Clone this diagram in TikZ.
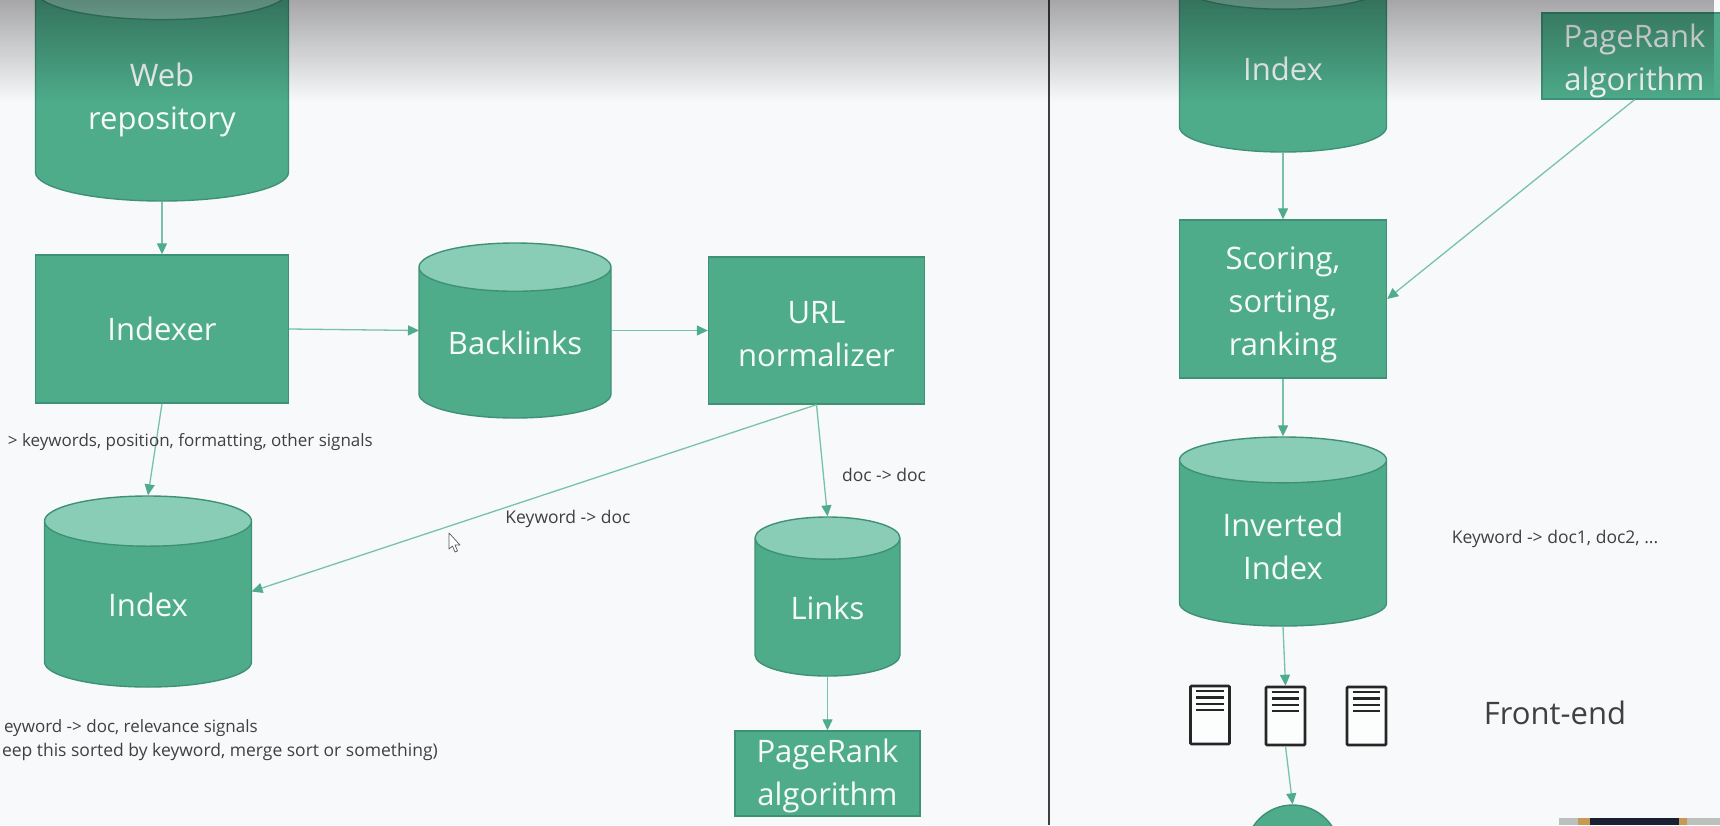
\documentclass[tikz,border=0pt]{standalone}
\usepackage{fontspec}
\setmainfont{Open Sans}
\usetikzlibrary{shapes.geometric,arrows.meta,fadings}
\definecolor{pagebg}{HTML}{F8F9FB}
\definecolor{gr}{HTML}{4EAC8B}
\definecolor{grline}{HTML}{3F9175}
\definecolor{grtop}{HTML}{8ACDB6}
\definecolor{grarrow}{HTML}{78C2A8}
\definecolor{smalltext}{HTML}{404040}
\definecolor{camgray}{HTML}{BCC0BC}
\definecolor{camtan}{HTML}{C49A55}
\definecolor{camdark}{HTML}{1A2030}
\tikzfading[name=topshade,top color=transparent!63,bottom color=transparent!100]
\tikzset{
	boxnode/.style={draw=grline,line width=1.4pt,fill=gr,text=white!95!gr,inner sep=0pt,align=center,font=\fontsize{31}{43}\selectfont},
	dbnode/.style={draw=grline,line width=1.4pt,text=white!95!gr,inner sep=0pt,align=center,font=\fontsize{31}{43}\selectfont,cylinder,anchor=shape center,shape border rotate=90,cylinder uses custom fill,cylinder body fill=gr,cylinder end fill=grtop},
	toppad/.style={execute at begin node={\rule{0pt}{#1}}},
	arr/.style={draw=grarrow,line width=1.3pt,-{Triangle[width=10pt,length=11pt,color=gr]}},
	note/.style={text=smalltext,inner sep=0pt,font=\fontsize{17.5}{17.5}\selectfont},
	docnode/.style={draw=black!85,line width=2.6pt,fill=white!60!pagebg,rounded corners=1pt,minimum width=39pt,minimum height=58pt,inner sep=0pt}
}
\begin{document}
\begin{tikzpicture}[x=1pt,y=-1pt]
	\useasboundingbox (0,0) rectangle (1720,825);
	\fill[pagebg] (0,0) rectangle (1720,825);
	\draw[black!75,line width=2pt] (1049,0) -- (1049,825);

	% left half
	\node[dbnode,toppad=74pt,shape aspect=0.39,minimum width=253pt,minimum height=239pt] at (162,81.5) (webrepo) {Web\\repository};
	\node[boxnode,minimum width=253pt,minimum height=148pt] at (162,329) (indexer) {Indexer};
	\node[dbnode,shape aspect=0.36,minimum width=192pt,minimum height=175pt] at (515,330.5) (backlinks) {Backlinks};
	\node[boxnode,toppad=72pt,minimum width=216pt,minimum height=147pt] at (816.5,330.5) (urlnorm) {URL\\normalizer};
	\node[dbnode,shape aspect=0.63,minimum width=207pt,minimum height=191pt] at (148,591.5) (index) {Index};
	\node[dbnode,shape aspect=0.57,minimum width=145pt,minimum height=159pt] at (827.5,596.5) (links) {Links};
	\node[boxnode,toppad=72pt,minimum width=185pt,minimum height=85pt] at (827.5,773.5) (pagerank) {PageRank\\algorithm};

	\draw[arr] (webrepo.south) -- (indexer.north);
	\draw[arr] (indexer.east) -- ([xshift=-96pt]backlinks.shape center);
	\draw[arr] ([xshift=96pt]backlinks.shape center) -- (urlnorm.west);
	\draw[arr] (indexer.south) -- (index.north);
	\draw[arr] (urlnorm.south) -- ([xshift=103.5pt]index.shape center);
	\draw[arr] (urlnorm.south) -- (links.north);
	\draw[arr] (links.south) -- (pagerank.north);

	\node[note,font=\fontsize{17}{17}\selectfont,anchor=east] at (373,442) (signalsnote) {> keywords, position, formatting, other signals};
	\node[note] at (568,519) (keydocnote) {Keyword -> doc};
	\node[note] at (884,475) (docdocnote) {doc -> doc};
	\node[note,font=\fontsize{17}{17}\selectfont,anchor=east] at (258,728) (relevnote) {eyword -> doc, relevance signals};
	\node[note,anchor=east] at (438,752) (sortnote) {eep this sorted by keyword, merge sort or something)};

	% mouse pointer
	\draw[black!65,fill=white,line width=0.7pt,line join=round] (449,533) -- (449,549) -- (452.5,546) -- (455,552) -- (457.5,551) -- (455,545) -- (460,545) -- cycle;

	% right half
	\node[dbnode,shape aspect=0.63,minimum width=207pt,minimum height=193pt] at (1283,55.5) (indexb) {Index};
	\node[boxnode,toppad=76pt,minimum width=185pt,minimum height=86pt] at (1634.5,56) (pagerankb) {PageRank\\algorithm};
	\node[boxnode,toppad=120pt,minimum width=207pt,minimum height=158pt] at (1283,299) (scoring) {Scoring,\\sorting,\\ranking};
	\node[dbnode,toppad=72pt,shape aspect=0.38,minimum width=207pt,minimum height=189pt] at (1283,531.5) (invindex) {Inverted\\Index};
	\node[docnode] at (1210,715) (doca) {};
	\node[docnode] at (1285.5,716) (docb) {};
	\node[docnode] at (1366.5,716) (docc) {};
	\foreach \d in {doca,docb,docc}
		\foreach \k in {0,1,2,3}
			\draw[black!85,line width=2.2pt] ([xshift=7pt,yshift={-6.5pt-6.2pt*\k}]\d.north west) -- ([xshift=-7pt,yshift={-6.5pt-6.2pt*\k}]\d.north east);
	\node[draw=grline,line width=1.4pt,fill=gr,circle,minimum size=94pt,inner sep=0pt] at (1292.6,852) (frontuser) {};

	\draw[arr] (indexb.south) -- (scoring.north);
	\draw[arr] (pagerankb.south) -- (scoring.east);
	\draw[arr] (scoring.south) -- (invindex.north);
	\draw[arr] (invindex.south) -- (docb.north);
	\draw[arr] (docb.south) -- (frontuser.north);

	\node[note] at (1555,539) (postnote) {Keyword -> doc1, doc2, ...};
	\node[text=smalltext,inner sep=0pt,font=\fontsize{31}{31}\selectfont] at (1555,713) (frontend) {Front-end};

	% webcam corner
	\fill[camgray] (1559,818) rectangle (1720,825);
	\fill[camtan] (1578,818) rectangle (1687,825);
	\fill[camdark] (1590,818) rectangle (1679,825);

	% shadow along the top
	\fill[black,path fading=topshade] (0,-13) rectangle (1720,102);
\end{tikzpicture}
\end{document}
